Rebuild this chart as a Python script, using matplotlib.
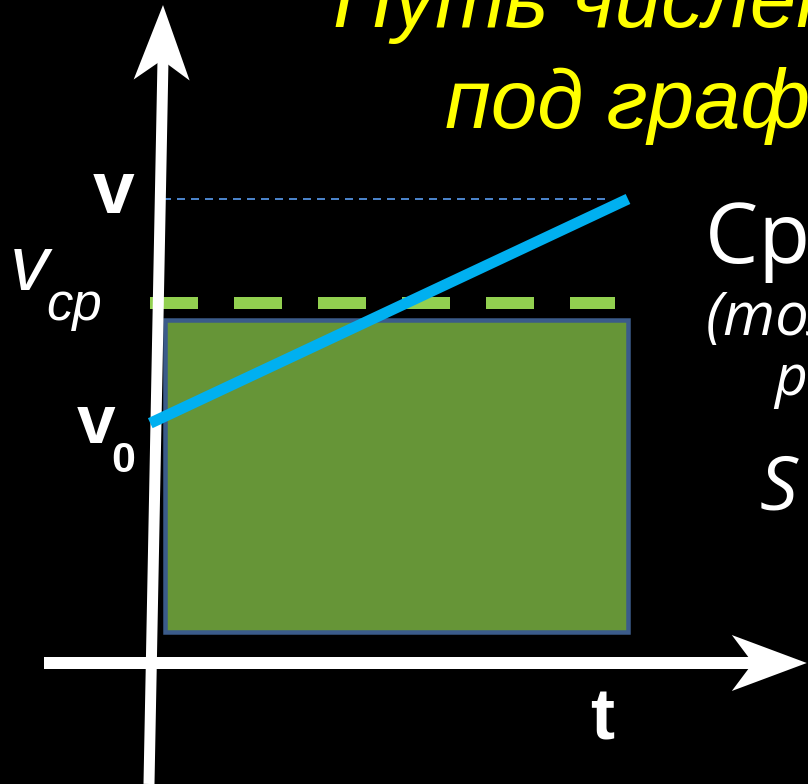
import numpy as np
import matplotlib.pyplot as plt
from matplotlib.patches import Rectangle, Polygon

# значения на графике (условные единицы: t в с, v в м/с)
t_line = [-0.1, 10.0]          # прямая v(t)
v_line = [5.07, 9.81]
v0 = 5.07
v_end = 9.81
v_avg = 7.61                   # средняя скорость (пунктир)
rect_t = [0.21, 10.0]          # прямоугольник площади
rect_v = [0.66, 7.25]
avg_t = [-0.1, 9.73]           # зелёный пунктир
top_t = [0.17, 9.51]           # тонкий пунктир на уровне v
vaxis_t = [-0.127, 0.169, 0.169]   # ось v: низ, конец стержня, острие
vaxis_v = [-2.558, 12.75, 13.91]
haxis_t = [-2.35, 12.64, 13.78]    # ось t: начало, конец стержня, острие

title_lines = ['Путь численно равен площади', 'под графиком']
side_lines = ['Средняя скорость', '(только при', 'равноускоренном движении)', 'S = v·t']

W, H = 808, 784
s = 47.3  # px на единицу

fig = plt.figure(figsize=(W / 100, H / 100), dpi=100, facecolor='black')
ax = fig.add_axes([0, 0, 1, 1])
ax.set_facecolor('black')
ax.set_xlim(-155 / s, (W - 155) / s)
ax.set_ylim(-(H - 663) / s, 663 / s)
ax.axis('off')

px = 0.72  # pt per pixel

# площадь под графиком
ax.add_patch(Rectangle((rect_t[0], rect_v[0]), rect_t[1] - rect_t[0], rect_v[1] - rect_v[0],
                       facecolor='#669537', edgecolor='#3b5b8a', lw=4.5 * px, zorder=2))

# тонкий пунктир на уровне v
ax.plot(top_t, [v_end, v_end], color='#4a82c8', lw=2 * px, dashes=(4, 3), zorder=3)

# средняя скорость
ax.plot(avg_t, [v_avg, v_avg], color='#92d050', lw=12 * px, dashes=(4, 3),
        solid_capstyle='butt', dash_capstyle='butt', zorder=3)

# оси
ax.plot(vaxis_t[:2], vaxis_v[:2], color='white', lw=11 * px, solid_capstyle='butt', zorder=4)
ax.plot(haxis_t[:2], [0, 0], color='white', lw=12 * px, solid_capstyle='butt', zorder=4)


def head(tip, direction, length, half, notch):
    d = np.array(direction, float)
    d /= np.linalg.norm(d)
    n = np.array([-d[1], d[0]])
    tip = np.array(tip)
    base = tip - d * length
    pts = [tip, base + n * half, tip - d * notch, base - n * half]
    ax.add_patch(Polygon(pts, closed=True, color='white', lw=0, zorder=5))


head((vaxis_t[2], vaxis_v[2]), (vaxis_t[2] - vaxis_t[0], vaxis_v[2] - vaxis_v[0]),
     75 / s, 28 / s, 55 / s)
head((haxis_t[2], 0), (1, 0), 75 / s, 28 / s, 54 / s)

# v(t)
ax.plot(t_line, v_line, color='#00b0f0', lw=11 * px, solid_capstyle='butt', zorder=6)


def ft(x, y, txt, **kw):
    fig.text(x / W, 1 - y / H, txt, va='baseline', ha='left', **kw)


# подписи осей
ft(93, 213, 'v', color='white', fontsize=54, fontweight='bold', family='Liberation Sans')
ft(10, 290, 'v', color='white', fontsize=56, style='italic', family='Liberation Sans')
ft(46, 320, 'cp', color='white', fontsize=38, style='italic', family='Liberation Sans')
ft(77, 443, 'v', color='white', fontsize=50, fontweight='bold', family='Liberation Sans')
ft(111, 472, '0', color='white', fontsize=31, fontweight='bold', family='Liberation Sans')
ft(590, 739, 't', color='white', fontsize=52, fontweight='bold', family='Liberation Sans')

# заголовок
ft(333, 27, title_lines[0], color='#ffff00', fontsize=60, style='italic', family='Liberation Sans')
ft(445, 128, title_lines[1], color='#ffff00', fontsize=60, style='italic', family='Liberation Sans')

# текст справа
ft(705, 263, side_lines[0], color='white', fontsize=61, family='Open Sans')
ft(706, 335, side_lines[1], color='white', fontsize=43, style='italic', family='Open Sans')
ft(774, 395, side_lines[2], color='white', fontsize=41, style='italic', family='Open Sans')
ft(760, 510, side_lines[3], color='white', fontsize=54, style='italic', family='Open Sans')

fig.savefig('out.png', dpi=100, facecolor='black')
